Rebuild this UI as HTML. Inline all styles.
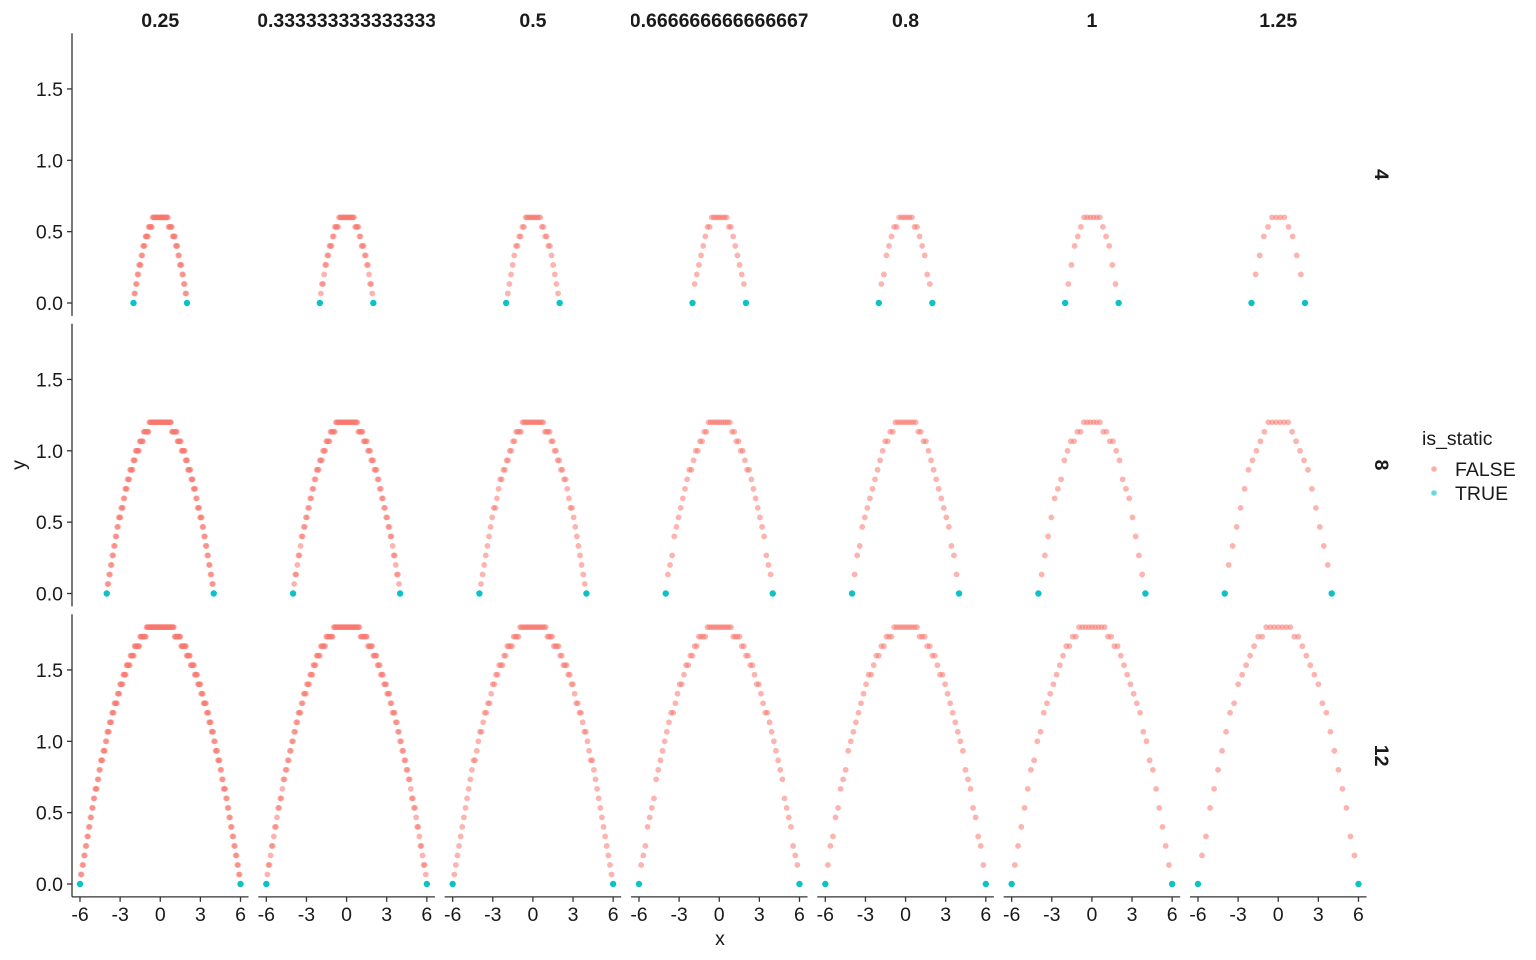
<!DOCTYPE html>
<html><head><meta charset="utf-8"><style>
html,body{margin:0;padding:0;background:#fff;}
svg{display:block;font-family:"Liberation Sans",sans-serif;}
</style></head><body>
<svg id="chart" width="1536" height="960" viewBox="0 0 1536 960" xmlns="http://www.w3.org/2000/svg"></svg>
<script>
const colLabels = ["0.25","0.333333333333333","0.5","0.666666666666667","0.8","1","1.25"];
const colValues = [0.25,0.3333333,0.5,0.6666667,0.8,1,1.25];
const rowLabels = ["4","8","12"];
const rowPeaks = [0.6,1.2,1.8];
const rowHalfWidths = [2,4,6];
const xTicks = [-6,-3,0,3,6];
const yTicks = [0,0.5,1.0,1.5];
const yTickLabels = ["0.0","0.5","1.0","1.5"];
const legendLabels = ["FALSE","TRUE"];

const NS="http://www.w3.org/2000/svg";
const svg=document.getElementById('chart');
function mk(tag,attrs,parent){const e=document.createElementNS(NS,tag);for(const k in attrs)e.setAttribute(k,attrs[k]);(parent||svg).appendChild(e);return e;}
const colStep=186.33, xUnit=13.375, x0=80;
const rowStep=290.5, yUnit=142.7, y0=303;
function sx(c,x){return x0+c*colStep+(x+6)*xUnit;}
function sy(r,y){return y0+r*rowStep-y*yUnit;}
const FALSEC="#F8766D", TRUEC="#00BFC4";

colLabels.forEach((l,c)=>{
  const cx=sx(c,0);
  const cp=mk('clipPath',{id:'cp'+c});
  mk('rect',{x:sx(c,-6.6),y:0,width:176.5,height:35},cp);
  const t=mk('text',{x:cx,y:27,'text-anchor':'middle','font-size':19.5,'font-weight':'bold',fill:'#1a1a1a','clip-path':'url(#cp'+c+')'});
  t.textContent=l;
  
  
});
rowLabels.forEach((l,r)=>{
  const cy=sy(r,0.9);
  const t=mk('text',{x:0,y:0,transform:`translate(1375,${cy}) rotate(90)`,'text-anchor':'middle','font-size':19.5,'font-weight':'bold',fill:'#1a1a1a'});
  t.textContent=l;
  
  
});

for(let r=0;r<3;r++){
  const top=sy(r,1.89), bot=sy(r,-0.09);
  const ax=mk('line',{x1:72,x2:72,y1:top,y2:bot,stroke:'#333','stroke-width':1.3});
  
  
  yTicks.forEach((v,i)=>{
    const y=sy(r,v);
    mk('line',{x1:67,x2:72,y1:y,y2:y,stroke:'#333','stroke-width':1.3});
    const t=mk('text',{x:63,y:y+7,'text-anchor':'end','font-size':19.5,fill:'#1a1a1a'});
    t.textContent=yTickLabels[i];
    
    
  });
}
for(let c=0;c<7;c++){
  const yb=sy(2,-0.09);
  const ax=mk('line',{x1:sx(c,-6.6),x2:sx(c,6.6),y1:yb,y2:yb,stroke:'#333','stroke-width':1.3});
  
  
  xTicks.forEach(v=>{
    const x=sx(c,v);
    mk('line',{x1:x,x2:x,y1:yb,y2:yb+5,stroke:'#333','stroke-width':1.3});
    const t=mk('text',{x:x,y:yb+24,'text-anchor':'middle','font-size':19.5,fill:'#1a1a1a'});
    t.textContent=String(v);
    
    
  });
}
const xt=mk('text',{x:720,y:945,'text-anchor':'middle','font-size':19.5,fill:'#1a1a1a'});xt.textContent='x';


const yt=mk('text',{x:0,y:0,transform:'translate(25,465) rotate(-90)','text-anchor':'middle','font-size':19.5,fill:'#1a1a1a'});yt.textContent='y';



const q=1/15;
for(let r=0;r<3;r++){
  const h=rowHalfWidths[r], p=rowPeaks[r];
  for(let c=0;c<7;c++){
    const dx=colValues[c]*0.24;
    const n=Math.round(2*h/dx);
    const step=2*h/n;
    for(let k=1;k<n;k++){
      const x=-h+k*step;
      let y=p*(1-(x/h)*(x/h));
      y=Math.min(p,Math.round(y/q+0.3)*q);
      const d=mk('circle',{cx:sx(c,x),cy:sy(r,y),r:2.9,fill:FALSEC,'fill-opacity':0.55});
      
      
    }
    [-h,h].forEach(x=>{
      const d=mk('circle',{cx:sx(c,x),cy:sy(r,0),r:3.2,fill:TRUEC,'fill-opacity':0.95});
      
      
    });
  }
}

const lt=mk('text',{x:1422,y:445,'font-size':19.5,fill:'#1a1a1a'});lt.textContent='is_static';


legendLabels.forEach((l,i)=>{
  const y=469+i*24;
  const d=mk('circle',{cx:1434,cy:y,r:2.8,fill:i?TRUEC:FALSEC,'fill-opacity':0.6});
  
  
  const t=mk('text',{x:1455,y:y+7,'font-size':19.5,fill:'#1a1a1a'});t.textContent=l;
  
  
});
</script>
</body></html>
